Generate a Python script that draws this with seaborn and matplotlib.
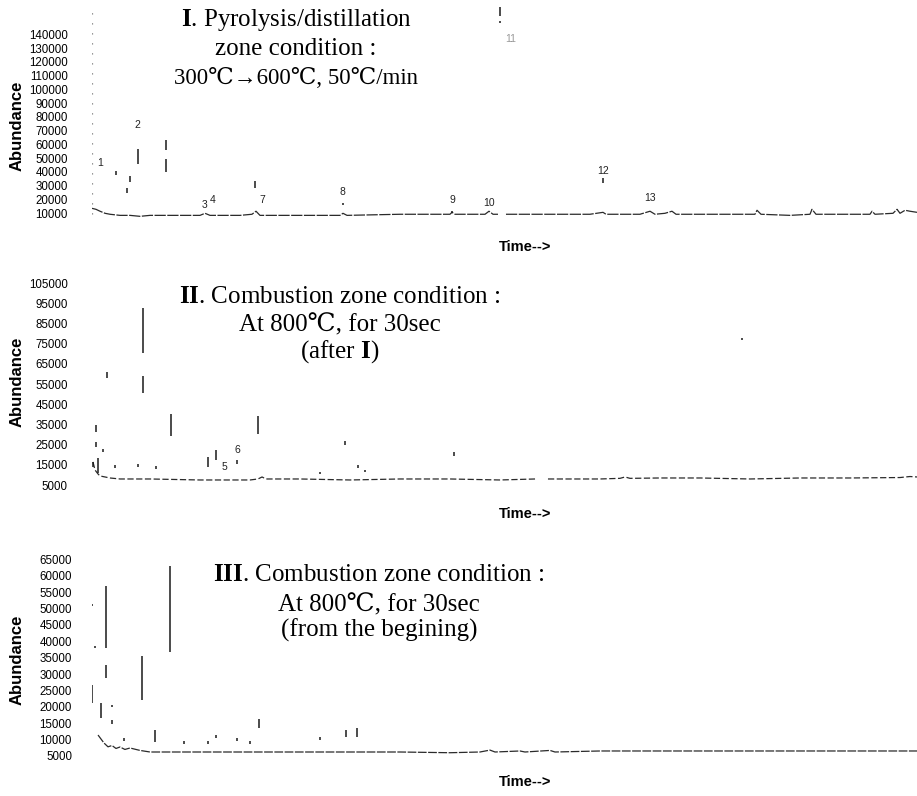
import numpy as np
import pandas as pd
import matplotlib
matplotlib.use("Agg")
import matplotlib.pyplot as plt
import seaborn as sns

# ---------------- DATA (time in arbitrary run units 0-100, abundance counts) -------------
# Panel I : pyrolysis/distillation
p1_base_t = [0, 0.48, 0.97, 1.58, 2.18, 3.39, 4.61, 5.82, 7.03, 10.06, 13.09, 13.7, 14.3, 17.94,
             19.39, 19.88, 20.36, 25.21, 30.06, 30.42, 30.91, 37.33, 43.39, 43.64, 44.0, 47.64,
             48.12, 48.61, 49.21,
             50.18, 55.52, 60.36, 61.94, 62.3, 66.42, 67.64, 68.24, 69.45, 70.3, 70.79, 73.7,
             80.36, 80.61, 81.09, 84.61, 87.03, 87.27, 87.76, 94.3, 94.55, 94.91, 97.09, 97.58,
             97.94, 98.55, 99.15, 100]
p1_base_v = [13600, 12900, 11500, 10000, 9300, 8500, 8500, 7800, 8500, 8500, 8500, 10000, 8500, 8500,
             9300, 11500, 8500, 8500, 8500, 10000, 8500, 9300, 9300, 10700, 9300, 9300,
             11500, 9300, 9300,
             9300, 9300, 9300, 10700, 9300, 9300, 11500, 9300, 10000, 11500, 9300, 9300,
             9300, 12200, 9300, 8500, 9300, 12900, 9300, 9300, 11500, 9300, 10000, 12900,
             10000, 12200, 11500, 10700]
p1_base_seg = [0] * 29 + [1] * 28
p1_pk_t = [2.91, 4.61, 4.24, 5.58, 8.97, 8.97, 19.76, 49.45, 49.45, 61.94, 30.42, 43.64]
p1_pk_lo = [38000, 32500, 24500, 45600, 55700, 39800, 28200, 153000, 148000, 31800, 16000, 10500]
p1_pk_hi = [40500, 36900, 28200, 56500, 63000, 49200, 33200, 159600, 150000, 35400, 17500, 12000]
p1_lab = ["1", "2", "3", "4", "7", "8", "9", "10", "11", "12", "13"]
p1_lab_t = [0.97, 5.45, 13.58, 14.67, 20.61, 30.3, 43.64, 48.12, 50.79, 61.94, 67.64]
p1_lab_v = [46300, 73900, 15800, 19400, 19400, 25200, 19400, 17300, 136400, 40500, 20900]
p1_ticks = list(range(10000, 140001, 10000))

# Panel II : combustion after I
p2_base_t = [0.12, 0.36, 0.73, 0.97, 1.58, 2.18, 3.39, 7.03, 13.09, 19.15, 20.12, 20.61, 21.09,
             25.21, 31.27, 37.33, 43.39, 49.45, 53.7,
             55.27, 61.58, 64.0, 64.61, 65.21, 68.85, 73.7, 79.76, 85.82, 91.88, 97.94, 99.15, 100]
p2_base_v = [16440, 12460, 10470, 9480, 8980, 8480, 7985, 7985, 7490, 7490, 7985, 8980, 7985,
             7985, 7490, 7985, 7985, 7490, 7985,
             7985, 7985, 8300, 8980, 8300, 8480, 8480, 7985, 8480, 8480, 8700, 9200, 8980]
p2_base_seg = [0] * 19 + [1] * 13
p2_pk_t = [0.48, 0.48, 0.73, 0.12, 1.33, 1.82, 6.18, 6.18, 9.58, 20.12, 14.06, 15.03, 17.58,
           30.67, 43.88, 78.79, 2.79, 5.58, 7.76, 32.24, 33.09, 27.64]
p2_pk_lo = [31370, 23900, 10970, 13960, 21400, 58230, 70670, 50770, 29380, 30370, 13960, 17440,
            15450, 24900, 19400, 77100, 13460, 13960, 12960, 13460, 11460, 10470]
p2_pk_hi = [34850, 26540, 18430, 16590, 22900, 60870, 92560, 58880, 40320, 38980, 19080, 22410,
            17440, 26900, 21400, 78100, 15000, 15450, 14460, 15000, 12460, 11460]
p2_lab = ["5", "6"]
p2_lab_t = [16.0, 17.58]
p2_lab_v = [13950, 22400]
p2_ticks = list(range(5000, 105001, 10000))

# Panel III : combustion from the beginning
p3_base_t = [0.73, 1.45, 1.94, 2.42, 2.91, 3.39, 3.99, 4.61, 5.82, 7.03, 13.09, 19.15, 25.21,
             31.27, 37.33, 43.39, 47.03, 48.24, 48.85, 51.88, 52.48, 55.52, 56.12, 61.58,
             73.7, 85.82, 100]
p3_base_v = [11400, 8970, 7800, 8200, 7300, 7750, 7000, 7440, 6700, 6220, 6220, 6220, 6220,
             6220, 6220, 6000, 6220, 6800, 6220, 6530, 6220, 6700, 6220, 6530,
             6530, 6530, 6530]
p3_pk_t = [0, 0, 0.36, 1.70, 1.70, 1.09, 2.42, 2.42, 6.06, 9.45, 7.64, 20.24, 30.79, 32.12,
           3.88, 11.15, 14.06, 15.03, 17.58, 19.15, 27.64]
p3_pk_lo = [21170, 50800, 37950, 37950, 28800, 16590, 19950, 14760, 22090, 36730, 9270, 13540,
            10800, 10800, 9580, 8660, 8660, 10490, 9580, 8660, 9880]
p3_pk_hi = [26660, 51400, 38560, 56870, 32760, 21170, 20560, 15980, 35510, 62970, 12930, 16290,
            12930, 13540, 10490, 9580, 9580, 11400, 10490, 9580, 10800]
p3_ticks = list(range(5000, 65001, 5000))

titles = [
    [r"$\mathbf{I}$. Pyrolysis/distillation", "zone condition :", "300℃→600℃, 50℃/min"],
    [r"$\mathbf{II}$. Combustion zone condition :", "At 800℃, for 30sec", r"(after $\mathbf{I}$)"],
    [r"$\mathbf{III}$. Combustion zone condition :", "At 800℃, for 30sec", "(from the begining)"],
]
title_sizes = [[18, 18, 16.5], [18, 18, 18], [18, 18, 18]]

# ---------------- LAYOUT -------------
W, H = 917, 796
sns.set_theme(style="white")
plt.rcParams["font.family"] = ["Liberation Sans", "DejaVu Sans"]
plt.rcParams["mathtext.fontset"] = "custom"
plt.rcParams["mathtext.rm"] = "Liberation Serif"
plt.rcParams["mathtext.bf"] = "Liberation Serif:bold"

fig = plt.figure(figsize=(W / 100, H / 100), dpi=100)
L, R = 92, 917


def axes_rect(px_a, val_a, px_b, val_b, ylo, yhi):
    k = (px_b - px_a) / (val_a - val_b)
    top = px_a - (yhi - val_a) * k
    bot = px_b + (val_b - ylo) * k
    return [L / W, 1 - bot / H, (R - L) / W, (bot - top) / H]


panels = [
    dict(rect=axes_rect(34.3, 140000, 213.3, 10000, 6000, 162000), ylim=(6000, 162000),
         bt=p1_base_t, bv=p1_base_v, bs=p1_base_seg, pt=p1_pk_t, plo=p1_pk_lo, phi=p1_pk_hi,
         ticks=p1_ticks, pad=17.3, lab=p1_lab, lt=p1_lab_t, lv=p1_lab_v,
         abund_y=126, time_y=247, title_x=296, title_base=[26, 55, 84], ls=(0, (9, 1.2))),
    dict(rect=axes_rect(283.3, 105000, 485, 5000, 3000, 110000), ylim=(3000, 110000),
         bt=p2_base_t, bv=p2_base_v, bs=p2_base_seg, pt=p2_pk_t, plo=p2_pk_lo, phi=p2_pk_hi,
         ticks=p2_ticks, pad=17.3, lab=p2_lab, lt=p2_lab_t, lv=p2_lab_v,
         abund_y=382, time_y=514, title_x=340, title_base=[303, 331, 358], ls=(0, (5, 2))),
    dict(rect=axes_rect(559.3, 65000, 756, 5000, 3000, 67000), ylim=(3000, 67000),
         bt=p3_base_t, bv=p3_base_v, bs=[0] * len(p3_base_t), pt=p3_pk_t, plo=p3_pk_lo,
         phi=p3_pk_hi, ticks=p3_ticks, pad=14.4, lab=[], lt=[], lv=[],
         abund_y=660, time_y=782, title_x=379, title_base=[581, 611, 637], ls=(0, (7, 1.2))),
]

serif = ["Liberation Serif", "DejaVu Serif", "Noto Sans CJK KR"]

for i, p in enumerate(panels):
    ax = fig.add_axes(p["rect"])
    df = pd.DataFrame({"t": p["bt"], "v": p["bv"], "seg": p["bs"]})
    sns.lineplot(data=df, x="t", y="v", units="seg", estimator=None, ax=ax,
                 color="#2a2a2a", lw=0.9, legend=False)
    for ln in ax.lines:
        ln.set_linestyle(p["ls"])
    ax.vlines(p["pt"], p["plo"], p["phi"], color="#1a1a1a", lw=1.1)
    if i == 0:
        ax.vlines([0], [9500], [160000], color="#777777", lw=0.9, linestyles=(0, (1, 7)))
    for s, t, v in zip(p["lab"], p["lt"], p["lv"]):
        ax.text(t, v, s, ha="center", va="center", fontsize=7.5,
                color="#999999" if s == "11" else "#222222")
    ax.set_xlim(0, 100)
    ax.set_ylim(*p["ylim"])
    ax.set_yticks(p["ticks"])
    ax.set_yticklabels([str(t) for t in p["ticks"]])
    ax.set_xticks([])
    ax.tick_params(axis="y", length=0, pad=p["pad"], labelsize=8.3, labelcolor="black")
    ax.set_xlabel("")
    ax.set_ylabel("")
    for sp in ax.spines.values():
        sp.set_visible(False)
    ax.patch.set_alpha(0)

    fig.text(17 / W, 1 - p["abund_y"] / H, "Abundance", rotation=90, ha="center", va="center",
             fontsize=12, fontweight="bold", color="black")
    fig.text(525 / W, 1 - p["time_y"] / H, "Time-->", ha="center", va="center",
             fontsize=10.5, fontweight="bold", color="black")
    for line, yb, fs in zip(titles[i], p["title_base"], title_sizes[i]):
        fam = "Liberation Serif" if "$" in line else serif
        fig.text(p["title_x"] / W, 1 - yb / H, line, ha="center", va="baseline",
                 fontsize=fs, family=fam, color="black")

fig.savefig("out.png", dpi=100)
